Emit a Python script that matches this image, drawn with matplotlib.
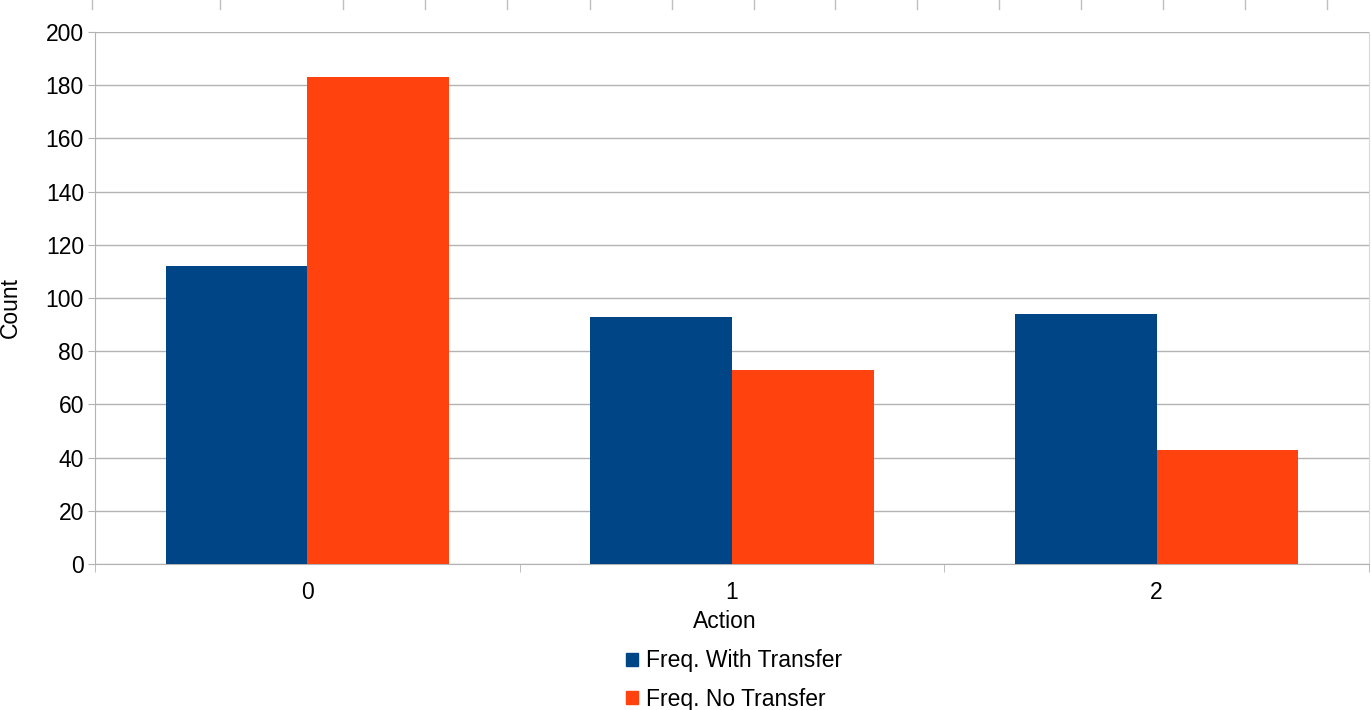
import matplotlib
matplotlib.use("Agg")
import matplotlib.pyplot as plt
import numpy as np
from matplotlib.lines import Line2D
from matplotlib.patches import Patch

plt.rcParams['font.family'] = ['Liberation Sans', 'DejaVu Sans']

actions = ["0", "1", "2"]
with_transfer = [112, 93, 94]
no_transfer = [183, 73, 43]
series_names = ["Freq. With Transfer", "Freq. No Transfer"]
colors = ["#004586", "#ff420e"]
yticks = [0, 20, 40, 60, 80, 100, 120, 140, 160, 180, 200]

W, H = 1371, 710
fs = 16.5
fig = plt.figure(figsize=(W / 100, H / 100), dpi=100)
ax = fig.add_axes([95 / W, 1 - 564 / H, (1369 - 95) / W, (564 - 32) / H])

x = np.arange(len(actions))
bw = 1 / 3
ax.bar(x - bw / 2, with_transfer, bw, color=colors[0], label=series_names[0], zorder=3)
ax.bar(x + bw / 2, no_transfer, bw, color=colors[1], label=series_names[1], zorder=3)

ax.set_xlim(-0.5, len(actions) - 0.5)
ax.set_ylim(0, 200)
ax.set_yticks(yticks)
ax.set_xticks(x)
ax.set_xticklabels(actions)
ax.set_xticks(np.arange(-0.5, len(actions)), minor=True)

grid_c = "#b3b3b3"
ax.yaxis.grid(True, color=grid_c, linewidth=1, zorder=0)
for side in ["left", "bottom"]:
    ax.spines[side].set_color(grid_c)
ax.spines["right"].set_color("#d9d9d9")
ax.spines["top"].set_visible(False)

ax.tick_params(axis="y", length=5, color=grid_c, labelsize=fs, pad=3)
ax.tick_params(axis="x", which="major", length=0, labelsize=fs, pad=12)
ax.tick_params(axis="x", which="minor", length=6, color=grid_c)

ax.set_ylabel("Count", fontsize=fs)
ax.set_xlabel("Action", fontsize=fs)
ax.yaxis.set_label_coords(10 / W, 1 - 308 / H, transform=fig.transFigure)
ax.yaxis.label.set_va("center")
ax.xaxis.set_label_coords(725 / W, 1 - 622 / H, transform=fig.transFigure)
ax.xaxis.label.set_va("center")

handles = [Patch(color=c) for c in colors]
fig.legend(handles, series_names, loc="center", bbox_to_anchor=(734 / W, 1 - 680 / H),
           ncol=1, frameon=False, fontsize=fs, handlelength=0.52, handleheight=0.52,
           handletextpad=0.35, labelspacing=0.67, borderpad=0)

# little grey marks along the top edge of the sheet
for px in [92, 220, 343, 425, 507, 590, 672, 754, 835, 917, 999, 1081, 1163, 1245, 1327]:
    fig.add_artist(Line2D([px / W, px / W], [1, 1 - 9 / H], color="#c0c0c0", linewidth=1))

fig.savefig("out.png", dpi=100)
